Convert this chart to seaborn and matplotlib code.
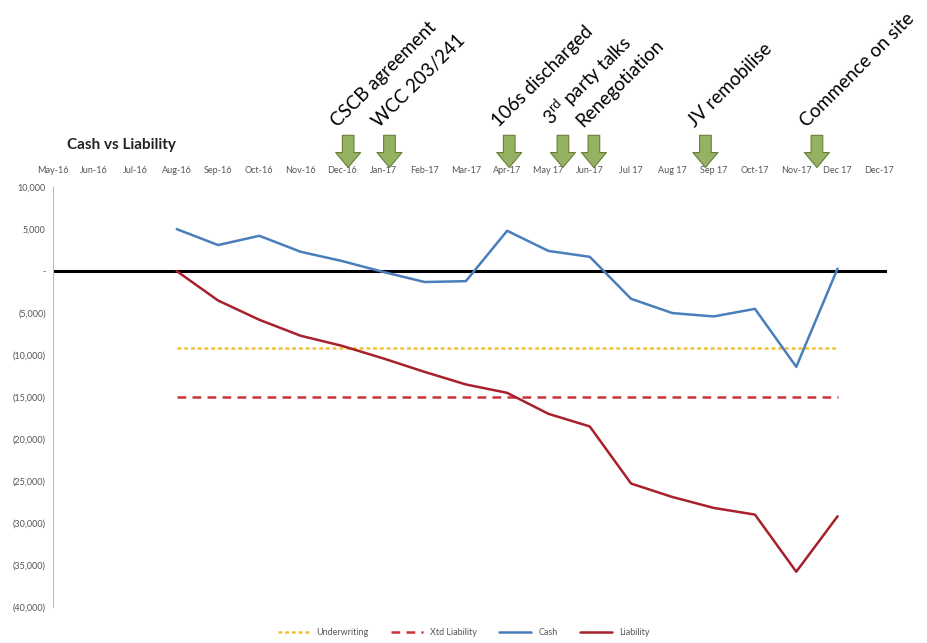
import numpy as np
import pandas as pd
import matplotlib
matplotlib.use("Agg")
import matplotlib.pyplot as plt
import matplotlib.transforms as mtransforms
import seaborn as sns

# Month labels along the top axis
months = ["May-16", "Jun-16", "Jul-16", "Aug-16", "Sep-16", "Oct-16", "Nov-16",
          "Dec-16", "Jan-17", "Feb-17", "Mar-17", "Apr-17", "May 17", "Jun-17",
          "Jul 17", "Aug 17", "Sep 17", "Oct-17", "Nov-17", "Dec 17", "Dec-17"]

# Series run Aug-16 .. Dec-17 (month index 3..19)
cash = [5000, 3100, 4200, 2300, 1200, -100, -1300, -1200, 4800, 2400, 1700,
        -3300, -5000, -5400, -4500, -11400, 300]
liability = [0, -3500, -5800, -7700, -8900, -10400, -12000, -13500, -14500,
             -17000, -18500, -25300, -26900, -28200, -29000, -35800, -29200]
underwriting = [-9200] * 17
xtd_liability = [-15000] * 17

# Event markers (position in month units from May-16)
events = ["CSCB agreement", "WCC 203/241", "106s discharged",
          "3$^{rd}$ party talks", "Renegotiation", "JV remobilise",
          "Commence on site"]
event_pos = [7.15, 8.15, 11.05, 12.35, 13.1, 15.8, 18.5]

sns.set_theme(style="white")
plt.rcParams["font.family"] = ["Lato", "DejaVu Sans"]
plt.rcParams["mathtext.fontset"] = "custom"
plt.rcParams["mathtext.rm"] = "Lato"
plt.rcParams["mathtext.it"] = "Lato"

idx = list(range(3, 20))
df = pd.concat([
    pd.DataFrame({"x": idx, "value": underwriting, "series": "Underwriting"}),
    pd.DataFrame({"x": idx, "value": xtd_liability, "series": "Xtd Liability"}),
    pd.DataFrame({"x": idx, "value": cash, "series": "Cash"}),
    pd.DataFrame({"x": idx, "value": liability, "series": "Liability"}),
])

palette = {"Underwriting": "#f2c136", "Xtd Liability": "#c9323c",
           "Cash": "#4a7ebb", "Liability": "#a8202c"}

fig = plt.figure(figsize=(9.27, 6.43), dpi=100)
ax = fig.add_axes([0.057, 0.056, 0.90, 0.653])

ax.axhline(0, color="black", lw=2.2, zorder=1)
sns.lineplot(data=df, x="x", y="value", hue="series", palette=palette,
             ax=ax, lw=1.8, legend=False, zorder=3)
lines = ax.get_lines()[1:]
lines[0].set_dashes([1.5, 1.2])
lines[1].set_dashes([3.5, 2.5])

ax.set_xlim(0.14, 20.2)
ax.set_ylim(-40000, 10000)
ax.set_yticks(np.arange(-40000, 10001, 5000))
ax.yaxis.set_major_formatter(matplotlib.ticker.FuncFormatter(
    lambda v, p: "-" if v == 0 else ("({:,.0f})".format(-v) if v < 0 else "{:,.0f}".format(v))))
ax.tick_params(axis="y", labelsize=6.5, colors="#555555", length=2, pad=3)
ax.set_xticks(range(len(months)))
ax.set_xticklabels(months)
ax.xaxis.tick_top()
ax.tick_params(axis="x", labelsize=6.5, colors="#555555", length=0, pad=9)
ax.set_xlabel("")
ax.set_ylabel("")
for s in ["top", "right", "bottom"]:
    ax.spines[s].set_visible(False)
ax.spines["left"].set_color("#bbbbbb")
ax.spines["left"].set_linewidth(0.8)

# Event arrows and labels
trans = mtransforms.blended_transform_factory(ax.transData, ax.transAxes)
for name, pos in zip(events, event_pos):
    ax.annotate("", xy=(pos, 1.04), xycoords=trans,
                xytext=(pos, 1.13), textcoords=trans,
                arrowprops=dict(arrowstyle="simple,head_width=1.5,head_length=0.9,tail_width=0.7",
                                fc="#94b261", ec="#66803c", lw=0.8, mutation_scale=12),
                annotation_clip=False)
    ax.text(pos - 0.2, 1.135, name, transform=trans, rotation=45,
            rotation_mode="anchor", ha="left", va="bottom", fontsize=13.5,
            color="black", clip_on=False)

fig.text(0.072, 0.769, "Cash vs Liability", fontsize=11, fontweight="bold",
         color="#222222")

handles = [plt.Line2D([], [], color=palette[k], lw=1.8) for k in palette]
handles[0].set_dashes([1.5, 1.2])
handles[1].set_dashes([3.5, 2.5])
fig.legend(handles, list(palette), loc="center", bbox_to_anchor=(0.5, 0.016),
           ncol=4, frameon=False, fontsize=6.5, handlelength=3.5,
           columnspacing=2.5, labelcolor="#555555")

fig.savefig("out.png", dpi=100)
